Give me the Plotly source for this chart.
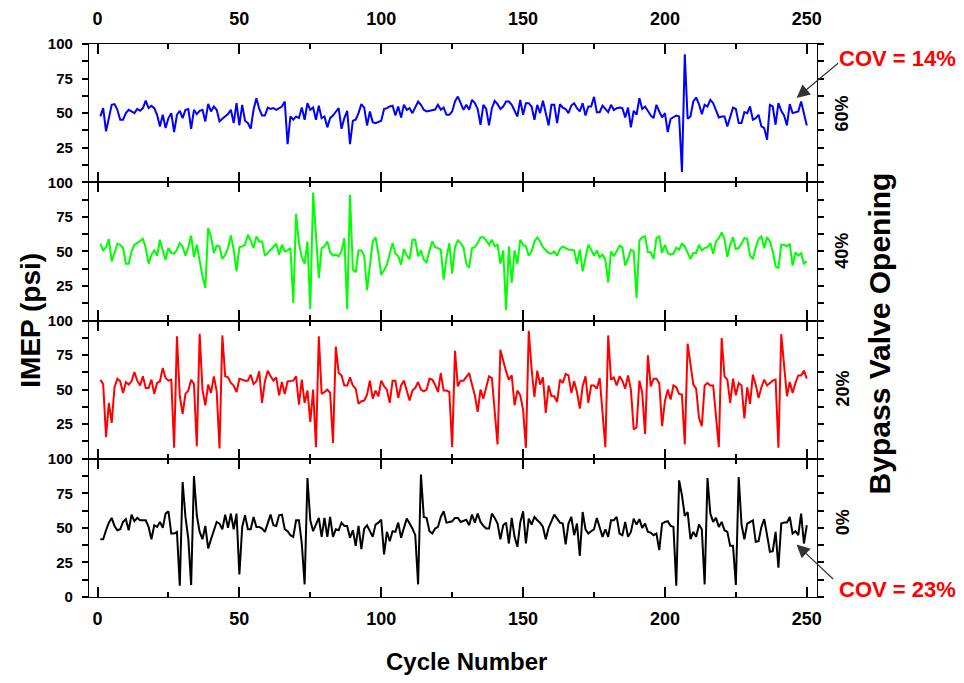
import plotly.graph_objects as go
from plotly.subplots import make_subplots

cycles = list(range(1, 251))

imep_60 = [47.6, 53.6, 36.8, 47.6, 56, 56.5, 52.4, 45.2, 45.2, 50,
           52.4, 51.2, 50, 53, 51.7, 53.6, 59, 53.6, 55.3, 53.6,
           48.8, 40.4, 48.8, 39.2, 46.4, 50, 36.3, 48.8, 51.7, 46.4,
           52.4, 53, 38.7, 52.4, 49.3, 51.7, 52.4, 44, 56.7, 51.2,
           54.8, 52.4, 44, 45.9, 47.6, 49.3, 52.4, 42.8, 57.2, 41.1,
           56, 44.5, 42.8, 38.7, 52.4, 60.8, 53, 48.3, 48.3, 54,
           53, 53.6, 52.4, 53.6, 54.8, 58.4, 27.6, 47.6, 45.2, 47.6,
           46.4, 54, 45.2, 57.2, 52.4, 54, 45.2, 55.3, 46.4, 47.6,
           39.7, 46.4, 48.3, 51, 53.6, 38.7, 46.4, 51.7, 27.6, 44.5,
           45.2, 50, 56.5, 54, 41.1, 51.2, 43.5, 42.8, 43.5, 44.5,
           53, 53.6, 54.8, 55.3, 48.3, 54.8, 46.9, 56, 52.4, 53.6,
           50, 54.8, 58.4, 56, 52.4, 51.2, 51.7, 52.2, 52.6, 56,
           52.4, 54, 48.8, 48.8, 51.2, 58.4, 62, 57.2, 52.4, 56,
           52.4, 59.6, 57.2, 53, 41.6, 56, 53, 41.1, 53.6, 58.9,
           56.5, 53, 54.8, 58.4, 58.4, 56, 51.2, 47.6, 59.6, 48.8,
           57.2, 57.2, 54.8, 45.2, 56, 50, 58.9, 50.7, 41.1, 56,
           56, 42.8, 56.5, 54, 53, 50, 55.5, 57.2, 53.6, 51.2,
           57.2, 48.3, 54.8, 54.8, 61.8, 50.7, 50.7, 55.5, 53, 50.7,
           56, 52.2, 53.6, 54, 53.6, 46.9, 54, 39.7, 51.7, 48.8,
           60.8, 53, 54.8, 51.2, 48.3, 46.4, 56, 51.2, 46.9, 50,
           36.3, 45.9, 46.9, 48.3, 47.6, 7.5, 92.5, 45.9, 47.6, 58.4,
           61.3, 56.5, 49.3, 56, 54.8, 59.6, 57.2, 51.7, 46.9, 47.6,
           47.6, 40.4, 47.6, 54, 53, 42.8, 42.8, 50.7, 50, 54.8,
           45.2, 46.4, 48.8, 40.4, 39.2, 30.8, 56, 54.8, 41.6, 57.2,
           51.7, 48.3, 41.1, 56.5, 50, 50.7, 51.2, 58.4, 50, 41.1]

imep_40 = [55.5, 50.7, 53, 58.9, 42.8, 50, 55.5, 54.8, 52.4, 41.1,
           41.1, 50, 54.8, 56, 57.9, 59.1, 52.4, 41.1, 47.6, 50.7,
           46.9, 58.4, 50.7, 44, 52.4, 48.8, 48.3, 51.2, 56, 53.6,
           46.9, 53, 61.3, 45.9, 54.8, 42.8, 32, 23.6, 66.8, 60.8,
           48.8, 54, 53.6, 44.5, 47.6, 52.4, 61.5, 51.2, 35.6, 53,
           53.6, 54.8, 62, 57.9, 52.4, 60.8, 57.2, 57.2, 46.9, 48.8,
           51.2, 53, 55.5, 47.6, 54.8, 50, 50.7, 52.4, 12.7, 77.2,
           56, 45.9, 41.1, 57.2, 8.4, 92.5, 58.4, 30.8, 52.4, 53.6,
           57.2, 49.3, 46.9, 47.6, 46.4, 50, 59.6, 8.4, 90.9, 36.8,
           34.9, 50.7, 50.7, 46.9, 21.9, 41.1, 57.2, 60.1, 48.3, 33.2,
           36.3, 40.4, 47.6, 56, 48.3, 46.4, 40.4, 51.7, 46.9, 44.5,
           58.4, 58.4, 46.4, 50.7, 44, 42.1, 50.7, 57.2, 53, 52.4,
           51.2, 29.6, 45.2, 56, 33.9, 53, 57.9, 56, 53, 41.1,
           38, 52.4, 53, 56, 60.3, 60.3, 57.9, 54.8, 58.4, 53.6,
           54.8, 41.1, 50.7, 7.5, 53.6, 27.2, 50.7, 41.1, 58.4, 54.8,
           53.6, 46.9, 50, 57.2, 60.1, 57.2, 53, 50.5, 48.8, 48.3,
           50, 46.9, 51.7, 53.6, 52.4, 51.2, 51.2, 50.7, 41.1, 51.2,
           35.6, 46.4, 54.8, 51.2, 46.9, 50.7, 45.7, 47.6, 44, 27.6,
           50, 46.4, 50, 54, 53, 39.7, 44.5, 51.2, 50, 16.3,
           57.9, 60.1, 60.8, 49.3, 49.3, 44.5, 59.6, 60.8, 48.8, 54.8,
           48.8, 47.6, 48.3, 52.6, 51.2, 55.5, 53.6, 48.8, 44.5, 48.8,
           48.8, 54.8, 50.7, 52.4, 53, 56, 48.3, 57.2, 59.6, 63.7,
           58.9, 45.9, 54.8, 60.3, 51.7, 52.4, 55.5, 59.6, 58.9, 46.9,
           44.5, 53, 58.9, 60.8, 52.4, 60.3, 57.2, 50, 39.2, 38,
           54.8, 54.8, 53.6, 55.5, 39.7, 49.3, 46.9, 48.8, 41.1, 42.8]

imep_20 = [57.2, 54, 15.6, 40.4, 26, 51.7, 57.9, 56, 47.6, 55.5,
           53.6, 56, 62.7, 56.5, 53, 59.6, 51.2, 51.2, 57.2, 46.9,
           54.8, 56, 65.6, 58.4, 56.5, 57.2, 7.9, 88.5, 45.2, 32.5,
           46.9, 49.3, 57.2, 54, 9.1, 90.4, 50, 38.7, 53.6, 47.6,
           59.6, 48.8, 7.5, 89.2, 59.6, 58.9, 54.8, 53, 48.3, 57.9,
           57.2, 56.5, 56.5, 60.8, 54, 56, 63.2, 40.4, 56, 63.7,
           59.6, 56.5, 58.9, 45.9, 55.5, 46.9, 56, 56.5, 56.5, 59.6,
           39.2, 57.2, 40.4, 49.3, 26.7, 50, 8.4, 88.5, 46.9, 48.3,
           50, 47.6, 11.5, 81.2, 62, 60.3, 53, 53, 58.9, 53,
           50.7, 39.7, 41.6, 42.1, 46.4, 56.5, 43.5, 49.3, 45.2, 56.5,
           52.4, 50, 40.4, 56.5, 56.5, 44, 53, 56.5, 48.8, 42.1,
           49.3, 51.2, 55.5, 50, 48.8, 50, 57.9, 57.2, 53.6, 48.3,
           62, 49.3, 49.3, 48.3, 8.4, 78.1, 52.4, 56.5, 56.5, 58.9,
           62, 53.6, 45.9, 33.9, 50, 43.5, 52.4, 59.6, 58.4, 36.8,
           10.3, 78.8, 70.4, 63.2, 57.2, 60.3, 38.7, 49.3, 45.9, 35.6,
           7.9, 92.5, 65.1, 44.5, 63.7, 53.6, 58.9, 33.2, 53, 45.2,
           45.2, 41.1, 57.2, 54.8, 61.3, 60.3, 47.6, 56, 48.3, 36.3,
           52.4, 59.6, 40.4, 53, 53, 50.7, 58.4, 35.6, 8.4, 89.2,
           57.2, 58.9, 53, 59.6, 56.5, 50.7, 60.3, 50, 21.2, 22.8,
           56.5, 47.6, 18, 74.8, 52.4, 57.9, 57.9, 54.8, 23.6, 41.6,
           50, 42.8, 53, 51.7, 46.9, 46.4, 10.3, 83.2, 68, 53.6,
           50.7, 29.6, 23.6, 53, 54.8, 53, 53, 32, 8.4, 87.3,
           59.6, 57.2, 40.4, 57.9, 45.9, 54.8, 53, 29.1, 51.7, 39.7,
           60.8, 53.6, 44, 51.7, 57.2, 53, 54.8, 56.5, 57.2, 7.9,
           90.1, 69.2, 45.2, 55.5, 47.6, 54.8, 60.3, 60.3, 63.7, 57.9]

imep_0 = [41.8, 41.8, 48.3, 53.8, 57.2, 51.4, 48.3, 49, 54.3, 56.3,
          48.3, 59.6, 54.8, 57.2, 55.5, 55.5, 55.5, 50.7, 41.8, 51.9,
          50.7, 54.3, 50, 60.3, 62, 45.9, 45.9, 47.1, 8.2, 83.2,
          57.9, 42.3, 8.7, 87.5, 59.1, 47.1, 41.8, 51.4, 35.1, 41.8,
          49, 54.3, 53.1, 49, 59.6, 50, 60.3, 49, 60.3, 16.3,
          50.7, 59.1, 49, 49, 57.9, 50.7, 50.7, 49.5, 47.1, 53.8,
          59.6, 51.9, 51.4, 59.1, 59.6, 49, 47.6, 44.7, 43.5, 55.5,
          55.5, 38.7, 9.1, 86.1, 55.5, 47.6, 53.1, 57.2, 43.5, 57.2,
          43.5, 57.9, 43.5, 49, 48.3, 53.8, 51.4, 51.4, 42.8, 48.3,
          37, 51.4, 34.6, 49.5, 51.9, 47.1, 43.5, 52.4, 53.8, 56,
          30.8, 47.1, 40.4, 47.6, 47.1, 53.8, 42.8, 50, 56.7, 53.1,
          49.5, 44.7, 9.1, 88.5, 57.9, 57.2, 47.6, 45.9, 49.5, 50.7,
          57.9, 62, 53.8, 54.3, 54.8, 57.2, 57.2, 54.3, 55.3, 55.8,
          51.9, 59.6, 53.8, 60.3, 54.3, 51.4, 49.5, 49.5, 60.3, 57.2,
          53.1, 41.8, 51.9, 53.8, 38.7, 57.2, 43.5, 36.3, 53.8, 62,
          38.7, 56.7, 52.4, 57.9, 55.5, 53.8, 50.7, 41.8, 50, 55.5,
          59.6, 56.7, 53.8, 53.1, 38, 53.1, 57.9, 44.7, 53.1, 29.8,
          61.5, 49, 45.9, 47.6, 49, 57.2, 50, 43.5, 49, 43.5,
          55.5, 55.5, 57.9, 45.9, 44.7, 54.3, 43.5, 47.1, 56.7, 52.4,
          56.3, 50, 53.1, 47.1, 46.6, 44.7, 45.9, 33.9, 53.1, 54.3,
          54.8, 51.4, 50.7, 8.2, 84.4, 73.6, 58.7, 61.5, 41.8, 47.1,
          43.5, 52.4, 49, 9.1, 86.1, 60.3, 54.3, 57.2, 50.7, 54.3,
          48.3, 47.1, 37, 37, 8.7, 86.8, 52.4, 41.8, 53.1, 54.3,
          55.5, 39.9, 40.4, 50.7, 56.3, 44.7, 32.7, 33.2, 47.1, 21.2,
          53.1, 53.8, 53.8, 57.9, 45.9, 47.6, 44.7, 60.3, 38.7, 51.9]

series = [imep_60, imep_40, imep_20, imep_0]
panel_labels = ["60%", "40%", "20%", "0%"]
colors = ["#0000FF", "#00FF00", "#FF0000", "#000000"]
x_ticks = [0, 50, 100, 150, 200, 250]
y_ticks = [0, 12.5, 25, 37.5, 50, 62.5, 75, 87.5, 100]

FONT = "Liberation Sans"

fig = make_subplots(rows=4, cols=1, shared_xaxes=False, vertical_spacing=0)

for i, (vals, col) in enumerate(zip(series, colors)):
    fig.add_trace(go.Scatter(x=cycles, y=vals, mode="lines",
                             line=dict(color=col, width=2),
                             showlegend=False, hoverinfo="skip"),
                  row=i + 1, col=1)

for i in range(4):
    r = i + 1
    top = (i == 0)
    bottom = (i == 3)
    fig.update_xaxes(row=r, col=1, range=[-3, 253.6], automargin=False,
                     tickvals=x_ticks, ticks="inside", ticklen=10, tickwidth=1.5,
                     tickcolor="black", showline=True, linewidth=1.3, linecolor="black",
                     mirror="ticks", showgrid=False, zeroline=False,
                     minor=dict(ticks="inside", dtick=25, ticklen=5, tickwidth=1.5,
                                tickcolor="black", showgrid=False),
                     side="top" if top else "bottom",
                     showticklabels=top or bottom,
                     ticklabelstandoff=11 if top else 5,
                     tickfont=dict(family=FONT, size=18, color="black", weight="bold"))
    ttext = []
    for v in y_ticks:
        if v % 25 != 0:
            ttext.append("")
        elif v == 0 and not bottom:
            ttext.append("")
        else:
            ttext.append(str(int(v)))
    fig.update_yaxes(row=r, col=1, range=[0, 100], tickvals=y_ticks, ticktext=ttext,
                     automargin=False,
                     ticks="outside", ticklen=6, tickwidth=1.5, tickcolor="black",
                     showline=True, linewidth=1.3, linecolor="black", mirror="ticks",
                     showgrid=False, zeroline=False, ticklabelstandoff=6,
                     tickfont=dict(family=FONT, size=15, color="black", weight="bold"))

annotations = []
ann_y = [0.875, 0.627, 0.378, 0.136]
for lab, yy in zip(panel_labels, ann_y):
    annotations.append(dict(text=lab, xref="paper", yref="paper", x=1.035, y=yy,
                            xanchor="center", yanchor="middle",
                            showarrow=False, textangle=-90,
                            font=dict(family=FONT, size=18, color="black", weight="bold")))

annotations += [
    dict(text="IMEP (psi)", xref="paper", yref="paper", x=-0.080, y=0.501,
         xanchor="center", yanchor="middle", showarrow=False, textangle=-90,
         font=dict(family=FONT, size=28, color="black", weight="bold")),
    dict(text="Cycle Number", xref="paper", yref="paper", x=0.519, y=-0.117,
         xanchor="center", yanchor="middle", showarrow=False,
         font=dict(family=FONT, size=24, color="black", weight="bold")),
    dict(text="Bypass Valve Opening", xref="paper", yref="paper", x=1.086, y=0.476,
         xanchor="center", yanchor="middle", showarrow=False, textangle=-90,
         font=dict(family=FONT, size=30, color="black", weight="bold")),
    dict(text="COV = 14%", xref="paper", yref="paper", x=1.111, y=0.974,
         xanchor="center", yanchor="middle", showarrow=False,
         font=dict(family=FONT, size=22, color="#FF0000", weight="bold")),
    dict(text="COV = 23%", xref="paper", yref="paper", x=1.111, y=0.013,
         xanchor="center", yanchor="middle", showarrow=False,
         font=dict(family=FONT, size=22, color="#FF0000", weight="bold")),
    dict(text="", xref="x", yref="y", x=246.4, y=61, ax=43, ay=-36,
         showarrow=True, arrowhead=2, arrowsize=2.2, arrowwidth=1.2, arrowcolor="#333333"),
    dict(text="", xref="x4", yref="y4", x=246.4, y=38, ax=38, ay=36,
         showarrow=True, arrowhead=2, arrowsize=2.2, arrowwidth=1.2, arrowcolor="#333333"),
]

fig.update_layout(width=964, height=683,
                  margin=dict(l=80.5, r=154.7, t=35.7, b=93.7),
                  paper_bgcolor="white", plot_bgcolor="white",
                  annotations=annotations,
                  font=dict(family=FONT, color="black"))

fig.write_html("out.html")
